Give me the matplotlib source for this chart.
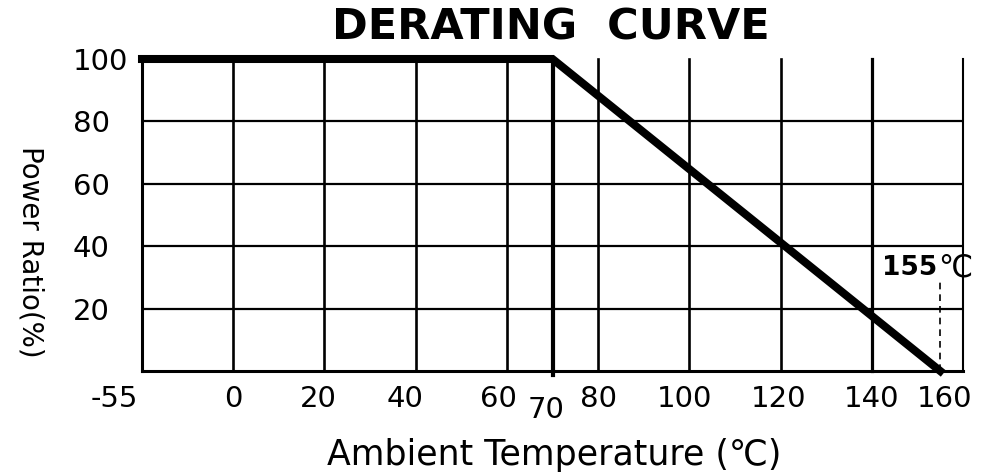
import numpy as np
import matplotlib
matplotlib.use("Agg")
import matplotlib.pyplot as plt
from matplotlib.transforms import ScaledTranslation

# ---- data ----
temps = [-55, 70, 155]          # ambient temperature (°C)
power_ratio = [100, 100, 0]     # power ratio (%)
x_ticks = [-55, 0, 20, 40, 60, 70, 80, 100, 120, 140, 160]
x_tick_labels = ["-55", "0", "20", "40", "60", "70", "80", "100", "120", "140", "160"]
y_ticks = [20, 40, 60, 80, 100]
y_tick_labels = ["20", "40", "60", "80", "100"]
v_grid = [0, 20, 40, 60, 70, 80, 100, 120, 140]
h_grid = [20, 40, 60, 80]
cutoff_temp = 155
cutoff_label_level = 33
cutoff_dash_top = 29

# ---- style ----
v_grid_lw = [1.9, 1.9, 1.9, 1.9, 3.0, 1.9, 1.9, 1.9, 2.3]
x_label_dx = [-4, 0, -6, -11, -8, -6, 0, -5, -2, 0, -18]   # px
x_label_dy = [0, 0, 0, 0, 0, -11, 0, 0, 0, 0, 0]           # px
FONT = "DejaVu Sans"
plt.rcParams["font.family"] = [FONT]

W, H = 982, 474
fig = plt.figure(figsize=(W / 100, H / 100), dpi=100)
fig.patch.set_facecolor("white")
ax = fig.add_axes([142 / W, 1 - 371 / H, (963 - 142) / W, (371 - 59) / H])

# compressed negative range: -55 occupies the width of 20 degrees
def fwd(x):
    x = np.asarray(x, dtype=float)
    return np.where(x < 0, x * 20.0 / 55.0, x)

def inv(x):
    x = np.asarray(x, dtype=float)
    return np.where(x < 0, x * 55.0 / 20.0, x)

ax.set_xscale("function", functions=(fwd, inv))
ax.set_xlim(-55, 160)
ax.set_ylim(0, 100)

for xv, lw in zip(v_grid, v_grid_lw):
    ax.axvline(xv, ymin=-0.012 if xv == 70 else 0, ymax=1, color="black",
               lw=lw, zorder=1, clip_on=False)
for yv in h_grid:
    ax.axhline(yv, color="black", lw=1.6, zorder=1)

ax.plot(temps, power_ratio, color="black", lw=5.8, solid_capstyle="projecting",
        solid_joinstyle="miter", zorder=3, clip_on=False)

ax.plot([cutoff_temp, cutoff_temp], [0, cutoff_dash_top], color="black", lw=1.2,
        ls=(0, (4, 3)), zorder=2)
ax.text(cutoff_temp - 0.6, cutoff_label_level, "155", ha="right", va="center",
        fontsize=19, fontweight="bold", zorder=4)
ax.text(cutoff_temp - 0.4, cutoff_label_level, "℃", ha="left", va="center",
        fontsize=22, zorder=4)

for s in ["left", "bottom"]:
    ax.spines[s].set_linewidth(2.2)
ax.spines["right"].set_linewidth(1.5)
ax.spines["top"].set_visible(False)

ax.set_xticks(x_ticks)
ax.set_xticklabels(x_tick_labels)
ax.set_yticks(y_ticks)
ax.set_yticklabels(y_tick_labels)
ax.tick_params(axis="x", length=0, pad=10, labelsize=21)
ax.tick_params(axis="y", length=0, pad=50, labelsize=21)

for lbl, dx, dy in zip(ax.get_xticklabels(), x_label_dx, x_label_dy):
    if lbl.get_text() == "-55":
        lbl.set_horizontalalignment("right")
    lbl.set_transform(lbl.get_transform() + ScaledTranslation(dx / 100, dy / 100, fig.dpi_scale_trans))
for lbl in ax.get_yticklabels():
    lbl.set_horizontalalignment("left")

fig.text(551 / W, 1 - 39 / H, "DERATING  CURVE", ha="center", va="baseline",
         fontsize=31, fontweight="bold")
fig.text(554 / W, 1 - 465 / H, "Ambient Temperature (℃)", ha="center", va="baseline",
         fontsize=25)
fig.text(30 / W, 1 - 252 / H, "Power Ratio(%)", ha="center", va="center",
         rotation=-90, fontsize=20)

fig.savefig("out.png", dpi=100, facecolor="white")
